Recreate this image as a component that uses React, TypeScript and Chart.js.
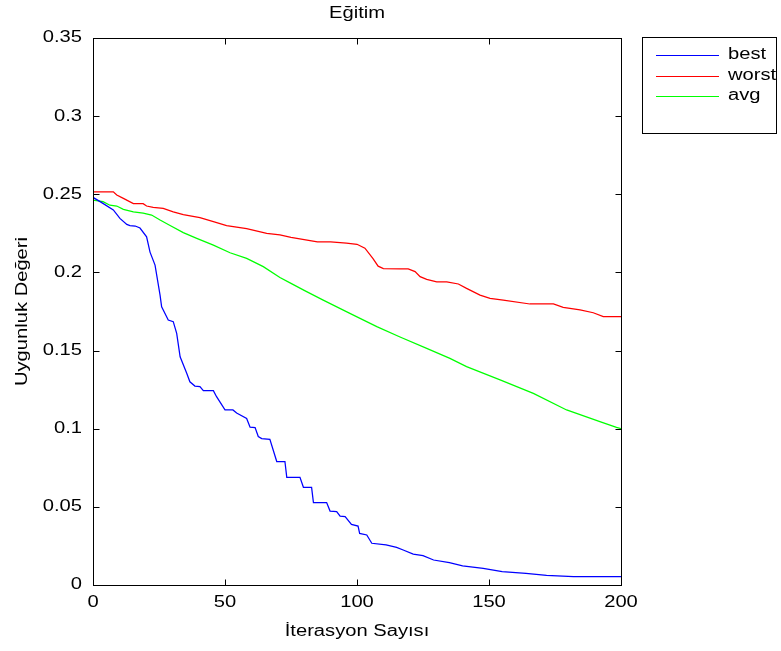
import { useEffect, useRef } from "react";
import { Chart, registerables } from "chart.js";

Chart.register(...registerables);

const chartTitle = "Eğitim";
const xTitle = "İterasyon Sayısı";
const yTitle = "Uygunluk Değeri";

const xTicks = [0, 50, 100, 150, 200];
const xTickLabels = ["0", "50", "100", "150", "200"];
const yTicks = [0, 0.05, 0.1, 0.15, 0.2, 0.25, 0.3, 0.35];
const yTickLabels = ["0", "0.05", "0.1", "0.15", "0.2", "0.25", "0.3", "0.35"];

const seriesNames = ["best", "worst", "avg"];
const seriesColors = ["#0000ff", "#ff0000", "#00ff00"];

const bestIter = [0, 3, 7.7, 10.2, 12.8, 14, 16, 17.8, 20.3, 21.6, 23.5, 25.4, 26, 28.5, 30.4, 31.7, 33, 35.5, 36.7, 38.6, 40.5, 41.8, 45.6, 46.8, 50, 53, 54.4, 58.2, 59.5, 61.4, 62.6, 63.9, 67, 69.6, 72.7, 73.4, 78.4, 79.7, 82.8, 83.5, 88.5, 89.8, 92.3, 93.6, 95.5, 97.9, 100.4, 101, 103.7, 105.6, 111, 115, 117.5, 121.3, 125, 129, 135, 140, 147.8, 155, 164, 171.8, 182, 200];
const bestVal = [0.248, 0.245, 0.24, 0.2346, 0.2307, 0.23, 0.2297, 0.2284, 0.2228, 0.213, 0.2047, 0.1855, 0.178, 0.1695, 0.1685, 0.161, 0.146, 0.1355, 0.13, 0.1273, 0.127, 0.1243, 0.1243, 0.1205, 0.112, 0.112, 0.11, 0.1066, 0.101, 0.1007, 0.095, 0.0937, 0.0932, 0.079, 0.079, 0.0689, 0.0689, 0.0625, 0.0625, 0.0527, 0.0527, 0.0473, 0.0469, 0.0441, 0.0437, 0.0388, 0.0377, 0.033, 0.032, 0.0267, 0.0256, 0.0241, 0.0224, 0.0198, 0.0188, 0.016, 0.0143, 0.0122, 0.0107, 0.0085, 0.0075, 0.0062, 0.0053, 0.0053];

const worstIter = [0, 7.7, 9, 11.5, 15.3, 19, 20.3, 22.8, 26.6, 30.4, 34.2, 40.5, 45.6, 50.6, 58.2, 65.8, 70.8, 75, 80, 85, 90, 96, 100, 103, 106, 108, 110, 116.3, 119.4, 122, 123.9, 126.4, 130.2, 134, 138.4, 141.5, 146.6, 150.4, 155.4, 165.5, 174.4, 178.1, 184.5, 189.5, 193.3, 200];
const worstVal = [0.2516, 0.2516, 0.2495, 0.2474, 0.244, 0.244, 0.2425, 0.2416, 0.241, 0.2388, 0.237, 0.235, 0.2325, 0.23, 0.228, 0.225, 0.224, 0.2225, 0.221, 0.2195, 0.2195, 0.2188, 0.218, 0.2155, 0.209, 0.204, 0.2025, 0.2022, 0.2022, 0.2005, 0.1973, 0.1956, 0.194, 0.194, 0.1926, 0.1898, 0.1855, 0.1834, 0.1823, 0.1798, 0.1798, 0.1777, 0.176, 0.1742, 0.1717, 0.1717];

const avgIter = [0, 3.8, 6.4, 9, 11.5, 15.3, 19, 22.2, 25.4, 29.2, 34.2, 39.3, 45.6, 51.9, 58.2, 64.5, 70.8, 75, 80, 87.2, 97.3, 107.5, 116.3, 126.4, 135.2, 141.5, 154.2, 166.8, 179.4, 192, 198.3, 200];
const avgVal = [0.2463, 0.2453, 0.243, 0.2425, 0.2404, 0.2388, 0.238, 0.2367, 0.2335, 0.23, 0.2255, 0.2218, 0.2175, 0.2126, 0.209, 0.2037, 0.1968, 0.193, 0.1885, 0.1823, 0.1738, 0.1653, 0.1587, 0.1514, 0.145, 0.1397, 0.1312, 0.1226, 0.112, 0.1045, 0.1009, 0.1];

const FONT = '16px "Liberation Sans", Arial, sans-serif';
const SX = 1.26;

function drawText(ctx: CanvasRenderingContext2D, text: string, x: number, y: number, align: CanvasTextAlign, rotate = false) {
  ctx.save();
  ctx.translate(x, y);
  if (rotate) ctx.rotate(-Math.PI / 2);
  ctx.scale(SX, 1);
  ctx.font = FONT;
  ctx.fillStyle = "#000";
  ctx.textAlign = align;
  ctx.textBaseline = "middle";
  ctx.fillText(text, 0, 0);
  ctx.restore();
}

const matlabPlugin = {
  id: "matlabFrame",
  afterDraw(chart: any) {
    const ctx: CanvasRenderingContext2D = chart.ctx;
    const { left, right, top, bottom } = chart.chartArea;
    const xs = chart.scales.x;
    const ys = chart.scales.y;
    const L = Math.round(left) + 0.5;
    const R = Math.round(right) + 0.5;
    const T = Math.round(top) + 0.5;
    const B = Math.round(bottom) + 0.5;
    ctx.save();
    ctx.strokeStyle = "#000";
    ctx.lineWidth = 1;
    ctx.strokeRect(L, T, R - L, B - T);
    const tl = 6;
    ctx.beginPath();
    xTicks.forEach((v) => {
      const px = Math.round(xs.getPixelForValue(v)) + 0.5;
      ctx.moveTo(px, B);
      ctx.lineTo(px, B - tl);
      ctx.moveTo(px, T);
      ctx.lineTo(px, T + tl);
    });
    yTicks.forEach((v) => {
      const py = Math.round(ys.getPixelForValue(v)) + 0.5;
      ctx.moveTo(L, py);
      ctx.lineTo(L + tl, py);
      ctx.moveTo(R, py);
      ctx.lineTo(R - tl, py);
    });
    ctx.stroke();
    ctx.restore();

    xTicks.forEach((v, i) => {
      drawText(ctx, xTickLabels[i], xs.getPixelForValue(v), bottom + 18, "center");
    });
    yTicks.forEach((v, i) => {
      drawText(ctx, yTickLabels[i], left - 11, ys.getPixelForValue(v), "right");
    });
    const cx = (left + right) / 2;
    const cy = (top + bottom) / 2;
    drawText(ctx, chartTitle, cx, 14, "center");
    drawText(ctx, xTitle, cx, bottom + 47, "center");
    drawText(ctx, yTitle, 23, cy, "center", true);

    // legend
    const bx = 642.5, by = 37.5, bw = 134, bh = 96;
    ctx.save();
    ctx.fillStyle = "#fff";
    ctx.fillRect(bx, by, bw, bh);
    ctx.strokeStyle = "#000";
    ctx.lineWidth = 1;
    ctx.strokeRect(bx, by, bw, bh);
    chart.data.datasets.forEach((ds: any, i: number) => {
      const y = 55 + i * 20.5;
      ctx.strokeStyle = ds.borderColor;
      ctx.lineWidth = 1.2;
      ctx.beginPath();
      ctx.moveTo(656, Math.round(y) + 0.5);
      ctx.lineTo(719, Math.round(y) + 0.5);
      ctx.stroke();
      drawText(ctx, ds.label, 728, y, "left");
    });
    ctx.restore();
  },
};

export default function App() {
  const ref = useRef<HTMLCanvasElement>(null);
  useEffect(() => {
    document.body.style.margin = "0";
    const iters = [bestIter, worstIter, avgIter];
    const vals = [bestVal, worstVal, avgVal];
    const chart = new Chart(ref.current!, {
      type: "line",
      data: {
        datasets: seriesNames.map((name, i) => ({
          label: name,
          data: iters[i].map((x, j) => ({ x, y: vals[i][j] })),
          borderColor: seriesColors[i],
          backgroundColor: seriesColors[i],
          borderWidth: 1.25,
          pointRadius: 0,
          tension: 0,
          fill: false,
        })),
      },
      options: {
        responsive: false,
        animation: false,
        devicePixelRatio: 1,
        layout: { padding: { left: 93, right: 160, top: 38, bottom: 66 } },
        scales: {
          x: { type: "linear", min: 0, max: 200, display: false },
          y: { type: "linear", min: 0, max: 0.35, display: false },
        },
        plugins: {
          legend: { display: false },
          title: { display: false },
          tooltip: { enabled: false },
        },
      },
      plugins: [matlabPlugin],
    });
    return () => chart.destroy();
  }, []);
  return (
    <div style={{ width: 781, height: 651, background: "#fff" }}>
      <canvas ref={ref} width={781} height={651} />
    </div>
  );
}
